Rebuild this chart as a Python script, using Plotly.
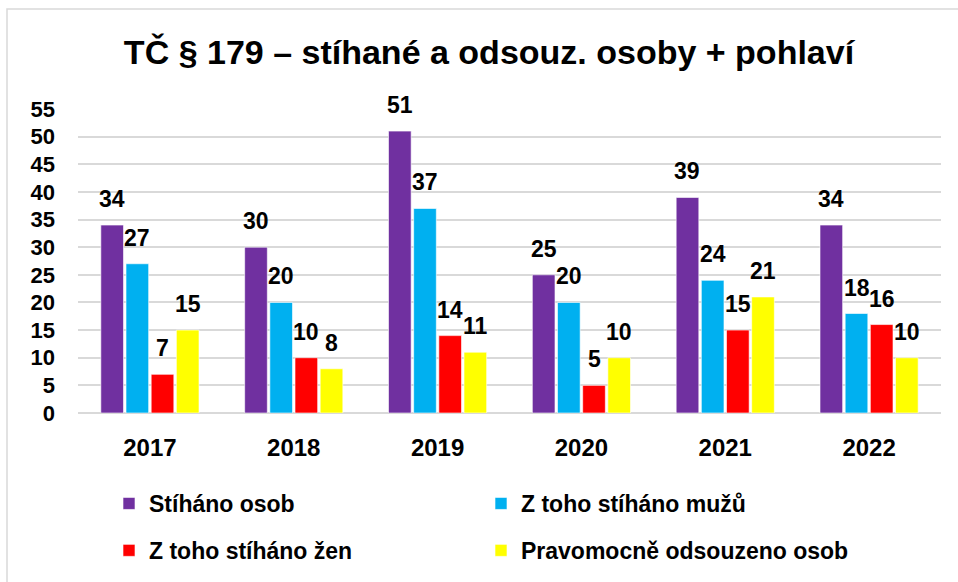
import plotly.graph_objects as go

years = ["2017", "2018", "2019", "2020", "2021", "2022"]
series_names = ["Stíháno osob", "Z toho stíháno mužů", "Z toho stíháno žen", "Pravomocně odsouzeno osob"]
stihano = [34, 30, 51, 25, 39, 34]
muzi = [27, 20, 37, 20, 24, 18]
zeny = [7, 10, 14, 5, 15, 16]
odsouzeno = [15, 8, 11, 10, 21, 10]
colors = ["#7030A0", "#00B0F0", "#FF0000", "#FFFF00"]
y_ticks = list(range(0, 56, 5))

series = [stihano, muzi, zeny, odsouzeno]
legend_ids = ["legend", "legend2", "legend", "legend2"]

W, H = 958, 582
L, R, T, B = 78, 17, 109, 169
pw, ph = W - L - R, H - T - B

FONT = "Liberation Sans, Arial, sans-serif"
bargap = 0.30
bargroupgap = 0.10

fig = go.Figure()
for i, (name, vals, col) in enumerate(zip(series_names, series, colors)):
    fig.add_trace(go.Bar(
        x=years, y=vals, name=name,
        marker=dict(color=col, line=dict(color="rgba(255,255,255,0.6)", width=1)),
        legend=legend_ids[i], legendgroup="g%d" % i,
        hoverinfo="skip",
    ))

# data labels above bars
slot = (1 - bargap) / 4
annotations = []
for i, vals in enumerate(series):
    for j, v in enumerate(vals):
        annotations.append(dict(
            x=j + (i - 1.5) * slot, y=v, xref="x", yref="y",
            text="<b>%d</b>" % v, showarrow=False,
            yanchor="middle", xanchor="center", yshift=26,
            font=dict(family=FONT, size=23, color="#000000"),
        ))

fig.update_layout(
    width=W, height=H,
    margin=dict(l=L, r=R, t=T, b=B, autoexpand=False),
    paper_bgcolor="white", plot_bgcolor="white",
    barmode="group", bargap=bargap, bargroupgap=bargroupgap,
    title=dict(
        text="<b>TČ § 179 – stíhané a odsouz. osoby + pohlaví</b>",
        x=489 / W, xref="container", xanchor="center",
        y=1 - 52 / H, yref="container", yanchor="middle",
        font=dict(family=FONT, size=34, color="#000000"),
    ),
    xaxis=dict(
        type="category", showgrid=False, showline=False, zeroline=False,
        ticks="", ticklabelstandoff=18, tickangle=0, automargin=False,
        tickfont=dict(family=FONT, size=24, color="#000000", weight="bold"),
    ),
    yaxis=dict(
        range=[0, 55], tickvals=y_ticks, showgrid=True,
        gridcolor="#D9D9D9", gridwidth=1.5, zeroline=True,
        zerolinecolor="#D9D9D9", zerolinewidth=1.5, showline=False,
        ticks="", ticklabelstandoff=22, automargin=False,
        tickfont=dict(family=FONT, size=22, color="#000000", weight="bold"),
    ),
    legend=dict(
        x=109 / W, xref="container", xanchor="left",
        y=1 - 482 / H, yref="container", yanchor="top",
        orientation="v", tracegroupgap=14, bgcolor="rgba(0,0,0,0)",
        font=dict(family=FONT, size=23, color="#000000", weight="bold"),
    ),
    legend2=dict(
        x=481 / W, xref="container", xanchor="left",
        y=1 - 482 / H, yref="container", yanchor="top",
        orientation="v", tracegroupgap=14, bgcolor="rgba(0,0,0,0)",
        font=dict(family=FONT, size=23, color="#000000", weight="bold"),
    ),
    annotations=annotations,
    shapes=[dict(
        type="rect", xref="paper", yref="paper",
        x0=(7 - L) / pw, x1=(W + 10 - L) / pw,
        y0=-(H + 10 - T - ph) / ph, y1=(T + ph - 9) / ph,
        line=dict(color="#D9D9D9", width=1.5), fillcolor="rgba(0,0,0,0)",
        layer="below",
    )],
    showlegend=True,
)

fig.write_html(
    "out.html",
    config={"displayModeBar": False},
    post_script="document.body.style.margin='0px';document.body.style.overflow='hidden';",
)
